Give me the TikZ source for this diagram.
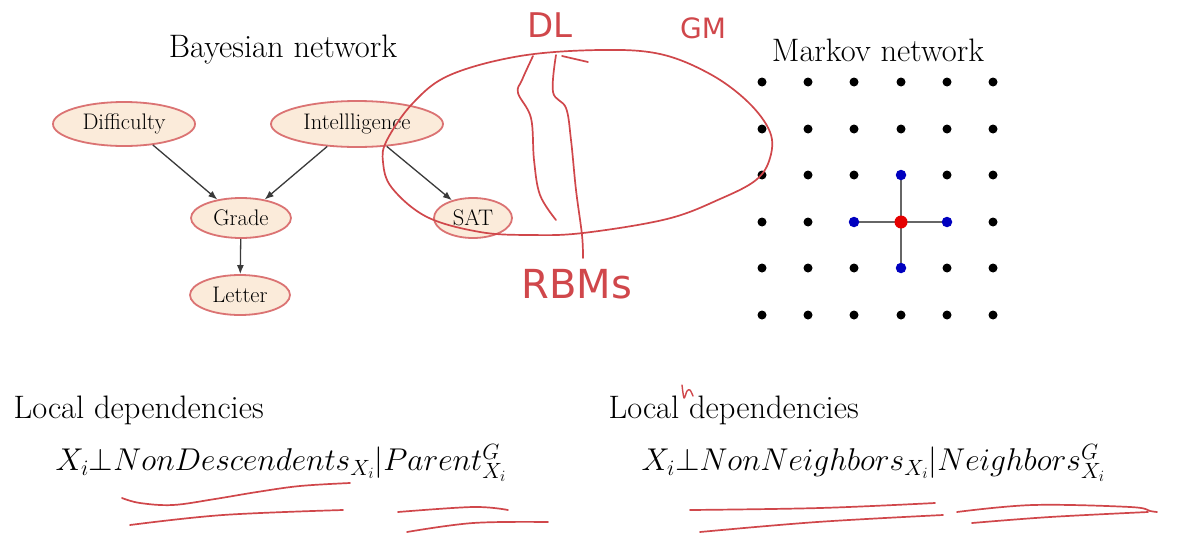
\RequirePackage{fix-cm}
\documentclass[tikz,border=0pt]{standalone}
\usepackage{fontspec}
\usetikzlibrary{shapes.geometric,arrows.meta}
\definecolor{nodefill}{HTML}{FBEBDA}
\definecolor{nodeedge}{HTML}{DB7373}
\definecolor{pen}{HTML}{D0474B}
\definecolor{arr}{HTML}{3A3A3A}
\newfontfamily\handfont{DejaVu Sans}
\tikzset{
  bnode/.style={ellipse, draw=nodeedge, fill=nodefill, line width=1.8pt, inner sep=0pt, font=\fontsize{22.5}{26}\selectfont},
  barrow/.style={draw=arr, line width=1.3pt, -{Latex[length=9pt,width=7pt]}},
  title/.style={font=\fontsize{32.5}{38}\selectfont},
  ink/.style={draw=pen, line width=1.7pt, line cap=round, line join=round},
  hand/.style={text=pen, font=\handfont\fontsize{34}{40}\selectfont},
  dot/.style={circle, fill=black, inner sep=0pt, minimum size=9pt},
  bdot/.style={circle, fill=blue!75!black, inner sep=0pt, minimum size=10.5pt},
  rdot/.style={circle, fill=red!90!black, inner sep=0pt, minimum size=13pt},
  formula/.style={font=\fontsize{31.5}{36}\selectfont, anchor=west}
}
\begin{document}
\begin{tikzpicture}[x=1pt,y=-1pt]
\useasboundingbox (0,0) rectangle (1193,533);
\fill[white] (0,0) rectangle (1193,533);

% titles
\node[title] (bt) at (283,50) {Bayesian network};
\node[title] (mt) at (878,50) {Markov network};

% Bayesian network
\node[bnode, minimum width=142pt, minimum height=44pt] (dif) at (124,124) {Difficulty};
\node[bnode, minimum width=172pt, minimum height=46pt] (int) at (357,124) {Intellligence};
\node[bnode, minimum width=100pt, minimum height=40pt] (gra) at (241,218) {Grade};
\node[bnode, minimum width=78pt, minimum height=40pt] (sat) at (473,218) {SAT};
\node[bnode, minimum width=100pt, minimum height=40pt] (let) at (240,295) {Letter};

\draw[barrow] (dif.-36) -- (gra.142);
\draw[barrow] (int.-143) -- (gra.38);
\draw[barrow] (int.-37) -- (sat.140);
\draw[barrow] (gra) -- (let);

% Markov network grid
\foreach \i/\x in {0/762,1/808,2/854,3/901,4/947,5/993}{
  \foreach \j/\y in {0/82,1/129,2/175,3/222,4/268,5/315}{
    \node[dot] (m\i\j) at (\x,\y) {};
  }
}
\draw[gray!80!black, line width=1.8pt] (m32) -- (m34);
\draw[gray!80!black, line width=1.8pt] (m23) -- (m43);
\node[bdot] at (m32) {};
\node[bdot] at (m34) {};
\node[bdot] at (m23) {};
\node[bdot] at (m43) {};
\node[rdot] at (m33) {};

% local dependencies
\node[title, anchor=west] (ld1) at (10,410) {Local dependencies};
\node[title, anchor=west] (ld2) at (605,410) {Local dependencies};
\node[formula] (f1) at (52,463) {$X_i{\perp}NonDescendents_{X_i}|Parent^G_{X_i}$};
\node[formula] (f2) at (638,463) {$X_i{\perp}NonNeighbors_{X_i}|Neighbors^G_{X_i}$};

% handwritten annotations
\draw[ink] plot[smooth cycle, tension=0.6] coordinates {
  (383,162) (387,140) (413,103) (450,75) (520,56) (600,50) (660,54) (710,74) (748,102) (770,132)
  (770,158) (756,180) (720,199) (667,219) (583,233) (530,235) (480,232) (427,217) (392,188)};
\draw[ink] plot[smooth, tension=0.6] coordinates {(533,56) (522,80) (518,93) (531,118) (534,160) (540,195) (556,220)};
\draw[ink] plot[smooth, tension=0.6] coordinates {(556,55) (553,92) (566,108) (571,140) (576,190) (582,235) (583,258)};
\draw[ink] (562,56) -- (588,62);
\node[hand] (dl) at (550,25) {DL};
\node[hand, font=\handfont\fontsize{28}{32}\selectfont] (gm) at (703,28) {GM};
\node[hand, font=\handfont\fontsize{40}{46}\selectfont] (rbm) at (577,284) {RBMs};

% underlines
\draw[ink] plot[smooth, tension=0.6] coordinates {(122,498) (140,503) (173,505) (215,499) (257,492) (300,486) (350,483)};
\draw[ink] plot[smooth, tension=0.6] coordinates {(130,525) (223,515) (343,510)};
\draw[ink] plot[smooth, tension=0.6] coordinates {(398,512) (473,507) (508,510)};
\draw[ink] plot[smooth, tension=0.6] coordinates {(407,532) (473,523) (548,522)};
\draw[ink] plot[smooth, tension=0.6] coordinates {(690,510) (820,508) (935,503)};
\draw[ink] plot[smooth, tension=0.6] coordinates {(700,532) (817,522) (943,515)};
\draw[ink] plot[smooth, tension=0.6] coordinates {(957,512) (1033,505) (1130,507) (1150,511) (1157,512)};
\draw[ink] plot[smooth, tension=0.6] coordinates {(972,523) (1050,517) (1148,512)};
\draw[ink, line width=1.4pt] plot[smooth, tension=0.5] coordinates {(682,385) (684,398) (687,391) (690,390) (693,396)};
\end{tikzpicture}
\end{document}
